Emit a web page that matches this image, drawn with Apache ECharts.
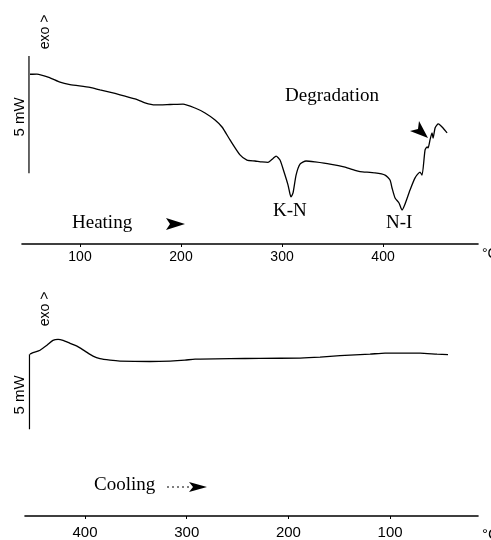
<!DOCTYPE html>
<html>
<head>
<meta charset="utf-8">
<script src="https://cdn.jsdelivr.net/npm/echarts@6/dist/echarts.min.js"></script>
<style>html,body{margin:0;padding:0;background:#fff}#c{width:491px;height:540px}</style>
</head>
<body>
<div id="c"></div>
<script>
// Heating scan: temperature (°C) and heat flow (mW, relative)
var heatT = [50.5,57.4,70.3,80.2,90.1,109.9,119.8,134.7,144.6,154.5,164.4,174.3,189.1,202.0,213.9,223.8,233.7,240.6,248.5,258.4,265.3,273.3,280.2,286.1,291.1,294.1,298.0,302.0,305.9,307.9,308.9,310.9,313.9,317.8,323.8,332.7,347.5,362.4,372.3,377.2,392.1,402.0,406.9,408.9,411.9,415.8,418.8,421.8,426.7,431.7,436.6,438.6,441.6,443.6,444.6,446.5,448.5,449.5,451.5,453.5,454.5,456.4,459.4,463.4];
var heatMW = [7.24,7.25,7.09,6.90,6.80,6.68,6.57,6.42,6.31,6.19,6.02,5.93,5.95,5.97,5.80,5.59,5.29,4.99,4.44,3.80,3.58,3.54,3.50,3.48,3.65,3.75,3.58,3.07,2.52,2.13,2.01,2.18,2.94,3.41,3.54,3.50,3.41,3.28,3.14,3.09,3.03,2.94,2.73,2.39,1.96,1.75,1.45,1.71,2.30,2.82,3.07,2.94,4.01,4.14,4.10,4.44,4.74,4.52,4.95,5.08,5.12,5.08,4.95,4.74];
// Cooling scan
var coolT = [454.1,451.1,444.2,437.4,431.5,426.5,421.6,414.7,407.9,400.0,392.1,385.3,375.4,365.6,336.1,316.4,301.7,291.8,286.9,257.4,227.9,188.6,168.9,149.3,119.8,105.0,70.6,53.9,43.1];
var coolMW = [10.79,10.89,11.05,11.38,11.71,11.78,11.71,11.51,11.32,10.99,10.66,10.49,10.39,10.33,10.30,10.33,10.39,10.46,10.46,10.49,10.51,10.53,10.59,10.69,10.79,10.86,10.86,10.79,10.76];
// 5 mW scale bars
var heatBarT = [49.5,49.5], heatBarMW = [8.02,3.02];
var coolBarT = [454.6,454.6], coolBarMW = [10.79,5.79];
var heatTicks = [100,200,300,400];
var coolTicks = [400,300,200,100];

function pairs(a,b){return a.map(function(v,i){return [v,b[i]];});}

var chart = echarts.init(document.getElementById('c'));
var sans = 'Liberation Sans, Arial, sans-serif';
var serif = 'Liberation Serif, Times New Roman, serif';
chart.setOption({
  animation:false,
  backgroundColor:'#fff',
  grid:[
    {left:22, right:13, top:33, bottom:296},
    {left:25, right:13, top:291, bottom:21}
  ],
  xAxis:[
    {gridIndex:0, type:'value', min:42.6, max:494, splitLine:{show:false},
     axisLine:{lineStyle:{color:'#000', width:1.6}},
     axisTick:{customValues:heatTicks, length:3, lineStyle:{color:'#000'}},
     axisLabel:{customValues:heatTicks, margin:6, color:'#000', fontFamily:sans, fontSize:14}},
    {gridIndex:1, type:'value', inverse:true, min:13.6, max:459, splitLine:{show:false},
     axisLine:{lineStyle:{color:'#000', width:1.6}},
     axisTick:{customValues:coolTicks, length:3, lineStyle:{color:'#000'}},
     axisLabel:{customValues:coolTicks, margin:9, color:'#000', fontFamily:sans, fontSize:15}}
  ],
  yAxis:[
    {gridIndex:0, type:'value', min:0, max:9, show:false},
    {gridIndex:1, type:'value', min:0, max:15, show:false}
  ],
  series:[
    {type:'line', xAxisIndex:0, yAxisIndex:0, data:pairs(heatT,heatMW), showSymbol:false, smooth:0.2, lineStyle:{color:'#000', width:1.3}},
    {type:'line', xAxisIndex:1, yAxisIndex:1, data:pairs(coolT,coolMW), showSymbol:false, smooth:0.2, lineStyle:{color:'#000', width:1.3}},
    {type:'line', xAxisIndex:0, yAxisIndex:0, data:pairs(heatBarT,heatBarMW), showSymbol:false, lineStyle:{color:'#000', width:1.2}},
    {type:'line', xAxisIndex:1, yAxisIndex:1, data:pairs(coolBarT,coolBarMW), showSymbol:false, lineStyle:{color:'#000', width:1.2}}
  ],
  graphic:[
    {type:'text', x:45, y:32, rotation:Math.PI/2, style:{text:'exo >', fontSize:14, fontFamily:sans, fill:'#000', align:'center', verticalAlign:'middle'}},
    {type:'text', x:20, y:117, rotation:Math.PI/2, style:{text:'5 mW', fontSize:15, fontFamily:sans, fill:'#000', align:'center', verticalAlign:'middle'}},
    {type:'text', x:45, y:309, rotation:Math.PI/2, style:{text:'exo >', fontSize:14, fontFamily:sans, fill:'#000', align:'center', verticalAlign:'middle'}},
    {type:'text', x:20, y:395, rotation:Math.PI/2, style:{text:'5 mW', fontSize:15, fontFamily:sans, fill:'#000', align:'center', verticalAlign:'middle'}},
    {type:'text', x:482, y:254, style:{text:'°C', fontSize:14, fontFamily:sans, fill:'#000', verticalAlign:'middle'}},
    {type:'text', x:482, y:535, style:{text:'°C', fontSize:15, fontFamily:sans, fill:'#000', verticalAlign:'middle'}},
    {type:'text', x:72, y:223, style:{text:'Heating', fontSize:19, fontFamily:serif, fill:'#000', verticalAlign:'middle'}},
    {type:'text', x:285, y:96, style:{text:'Degradation', fontSize:19, fontFamily:serif, fill:'#000', verticalAlign:'middle'}},
    {type:'text', x:273, y:211, style:{text:'K-N', fontSize:19, fontFamily:serif, fill:'#000', verticalAlign:'middle'}},
    {type:'text', x:386, y:223, style:{text:'N-I', fontSize:19, fontFamily:serif, fill:'#000', verticalAlign:'middle'}},
    {type:'text', x:94, y:485, style:{text:'Cooling', fontSize:19, fontFamily:serif, fill:'#000', verticalAlign:'middle'}},
    {type:'polygon', shape:{points:[[166,218],[185,224],[166,230],[170,224]]}, style:{fill:'#000'}},
    {type:'polygon', shape:{points:[[189,482],[207,487],[189,492],[193,487]]}, style:{fill:'#000'}},
    {type:'line', shape:{x1:167, y1:487, x2:191, y2:487}, style:{stroke:'#000', lineWidth:1, lineDash:[2,3]}},
    {type:'polygon', shape:{points:[[410,131],[428,138],[419,121],[418,129]]}, style:{fill:'#000'}}
  ]
});
</script>
</body>
</html>
